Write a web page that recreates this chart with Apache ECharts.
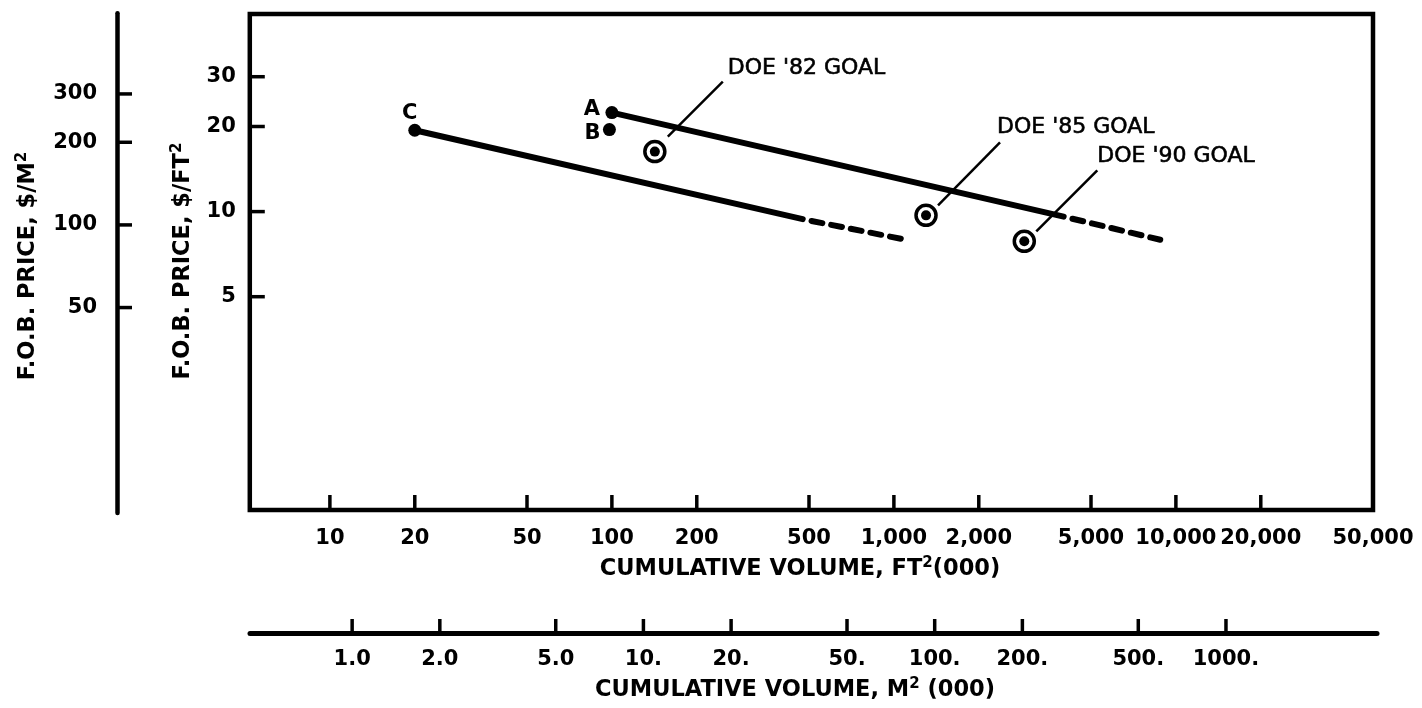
<!DOCTYPE html>
<html>
<head>
<meta charset="utf-8">
<script src="https://cdn.jsdelivr.net/npm/echarts@6/dist/echarts.min.js"></script>
<style>
  html, body { margin: 0; padding: 0; background: #fff; }
  #chart { width: 1422px; height: 708px; }
</style>
</head>
<body>
<div id="chart"></div>
<script>
// ---- Data ----------------------------------------------------------------
// Cumulative volume, thousands of ft² (main scale) and thousands of m² (lower scale)
const volumeFt2Ticks  = [10, 20, 50, 100, 200, 500, 1000, 2000, 5000, 10000, 20000, 50000];
const volumeFt2Labels = ['10', '20', '50', '100', '200', '500', '1,000', '2,000', '5,000', '10,000', '20,000', '50,000'];
const volumeM2Ticks   = [1, 2, 5, 10, 20, 50, 100, 200, 500, 1000];
const volumeM2Labels  = ['1.0', '2.0', '5.0', '10.', '20.', '50.', '100.', '200.', '500.', '1000.'];

// F.O.B. price, $/ft² (inner scale) and $/m² (outer scale)
const priceFt2Ticks  = [5, 10, 20, 30];
const priceFt2Labels = ['5', '10', '20', '30'];
const priceM2Ticks   = [50, 100, 200, 300];
const priceM2Labels  = ['50', '100', '200', '300'];

// Experience curves [cumulative volume ft²(000), $/ft²]
const curveA          = [[100, 22.4], [4000, 9.6]];
const curveAProjected = [[4000, 9.6], [8800, 7.95]];
const curveC          = [[20, 19.4], [475, 9.4]];
const curveCProjected = [[475, 9.4], [1070, 8.0]];

// Reported price points
const pointNames  = ['A', 'B', 'C'];
const pointValues = [[100, 22.4], [98, 19.5], [20, 19.4]];

// Program goals
const goalNames  = ["DOE '82 GOAL", "DOE '85 GOAL", "DOE '90 GOAL"];
const goalValues = [[142, 16.3], [1300, 9.7], [2900, 7.85]];

// ---- Scale extents & layout ------------------------------------------------
const X_FT2 = [5.2, 50000];
const Y_FT2 = [0.88, 50];
const Y_M2  = [8.925, 590];
const X_M2  = [0.446, 3300];

const INK = '#000';
const FAMILY = 'DejaVu Sans';
const NUM_SIZE = 21;

// callout geometry relative to each goal marker: leader start, leader end, text anchor
const GOAL_CALLOUTS = [
  { lead: [13, -15, 68, -70], text: [73, -83] },
  { lead: [12, -10, 74, -73], text: [71, -88] },
  { lead: [12, -10, 73, -71], text: [73, -85] }
];
const POINT_LABEL_OFFSETS = [[-20, -3], [-17, 4], [-5, -17]];

function numText(x, y, text, align, vAlign) {
  return {
    type: 'text', x: x, y: y,
    style: {
      text: text, fill: INK, fontFamily: FAMILY, fontWeight: 'bold',
      fontSize: NUM_SIZE, align: align, verticalAlign: vAlign
    }
  };
}

// ticks pointing up from a horizontal axis, labels below
function bottomTicks(labels, tickLen, labelGap) {
  return function (params, api) {
    const cs = params.coordSys;
    const x = api.coord([api.value(0), api.value(1)])[0];
    const yb = cs.y + cs.height;
    return {
      type: 'group',
      children: [
        { type: 'line', shape: { x1: x, y1: yb, x2: x, y2: yb - tickLen },
          style: { stroke: INK, lineWidth: 3.5 } },
        numText(x, yb + labelGap, labels[params.dataIndex], 'center', 'middle')
      ]
    };
  };
}

// ticks pointing right from a vertical axis, labels to the left
function leftTicks(labels, tickLen, labelGap) {
  return function (params, api) {
    const cs = params.coordSys;
    const y = api.coord([api.value(0), api.value(1)])[1];
    const xl = cs.x;
    return {
      type: 'group',
      children: [
        { type: 'line', shape: { x1: xl, y1: y, x2: xl + tickLen, y2: y },
          style: { stroke: INK, lineWidth: 3.5 } },
        numText(xl - labelGap, y, labels[params.dataIndex], 'right', 'middle')
      ]
    };
  };
}

function renderGoal(params, api) {
  const p = api.coord([api.value(0), api.value(1)]);
  const c = GOAL_CALLOUTS[params.dataIndex];
  return {
    type: 'group',
    children: [
      { type: 'circle', shape: { cx: p[0], cy: p[1], r: 10 },
        style: { fill: '#fff', stroke: INK, lineWidth: 3.5 } },
      { type: 'circle', shape: { cx: p[0], cy: p[1], r: 5 }, style: { fill: INK } },
      { type: 'line',
        shape: { x1: p[0] + c.lead[0], y1: p[1] + c.lead[1], x2: p[0] + c.lead[2], y2: p[1] + c.lead[3] },
        style: { stroke: INK, lineWidth: 2.5 } },
      { type: 'text', x: p[0] + c.text[0], y: p[1] + c.text[1],
        style: { text: goalNames[params.dataIndex], fill: INK, stroke: INK, lineWidth: 0.6,
                 fontFamily: FAMILY, fontWeight: 'normal', fontSize: 22,
                 align: 'left', verticalAlign: 'middle' } }
    ]
  };
}

const solidStyle  = { color: INK, width: 6, cap: 'round', opacity: 1 };
const dashedStyle = { color: INK, width: 6, cap: 'round', opacity: 1, type: [11, 9], dashOffset: 11 };

function lineSeries(data, style) {
  return {
    type: 'line', data: data, xAxisIndex: 0, yAxisIndex: 0,
    showSymbol: false, symbol: 'none', lineStyle: style, silent: true, z: 3
  };
}

const titleRich = {
  t: { fontFamily: FAMILY, fontWeight: 'bold', fontSize: 22.5, lineHeight: 27, fill: INK },
  s: { fontFamily: FAMILY, fontWeight: 'bold', fontSize: 15, lineHeight: 15, fill: INK, verticalAlign: 'top' }
};

function titleText(x, y, text, rotation) {
  return {
    type: 'text', x: x, y: y, rotation: rotation || 0,
    style: { text: text, rich: titleRich, align: 'center', verticalAlign: 'middle' }
  };
}

const option = {
  animation: false,
  backgroundColor: '#fff',
  grid: [
    { left: 249.8, top: 14, right: 49, bottom: 198, show: true,
      borderColor: INK, borderWidth: 4.5, backgroundColor: 'transparent', outerBoundsMode: 'none' },
    { left: 117, top: 13.3, width: 20, bottom: 195, outerBoundsMode: 'none' },
    { left: 250, right: 45, top: 600, bottom: 75, outerBoundsMode: 'none' }
  ],
  xAxis: [
    { type: 'log', gridIndex: 0, min: X_FT2[0], max: X_FT2[1], show: false },
    { type: 'value', gridIndex: 1, min: 0, max: 1, show: false },
    { type: 'log', gridIndex: 2, min: X_M2[0], max: X_M2[1], position: 'bottom',
      axisLine: { show: true, onZero: false, lineStyle: { color: INK, width: 5, cap: 'round' } },
      axisTick: { show: false }, axisLabel: { show: false }, splitLine: { show: false } }
  ],
  yAxis: [
    { type: 'log', gridIndex: 0, min: Y_FT2[0], max: Y_FT2[1], show: false },
    { type: 'log', gridIndex: 1, min: Y_M2[0], max: Y_M2[1], position: 'left',
      axisLine: { show: true, onZero: false, lineStyle: { color: INK, width: 4.5, cap: 'round' } },
      axisTick: { show: false }, axisLabel: { show: false }, splitLine: { show: false } },
    { type: 'value', gridIndex: 2, min: 0, max: 1, show: false }
  ],
  graphic: [
    titleText(800, 569, '{t|CUMULATIVE VOLUME, FT}{s|2}{t|(000)}'),
    titleText(795, 690, '{t|CUMULATIVE VOLUME, M}{s|2}{t| (000)}'),
    titleText(28, 266, '{t|F.O.B. PRICE, $/M}{s|2}', Math.PI / 2),
    titleText(183, 261, '{t|F.O.B. PRICE, $/FT}{s|2}', Math.PI / 2)
  ],
  series: [
    lineSeries(curveA, solidStyle),
    lineSeries(curveAProjected, dashedStyle),
    lineSeries(curveC, solidStyle),
    lineSeries(curveCProjected, dashedStyle),
    {
      type: 'scatter', xAxisIndex: 0, yAxisIndex: 0, symbol: 'circle', symbolSize: 13,
      itemStyle: { color: INK, opacity: 1 }, silent: true, z: 4,
      data: pointValues.map((v, i) => ({
        name: pointNames[i], value: v,
        label: { offset: POINT_LABEL_OFFSETS[i] }
      })),
      label: {
        show: true, position: 'inside', formatter: '{b}', color: INK, opacity: 1,
        fontFamily: FAMILY, fontWeight: 'bold', fontSize: 21
      }
    },
    {
      type: 'custom', coordinateSystem: 'cartesian2d', xAxisIndex: 0, yAxisIndex: 0,
      data: goalValues, renderItem: renderGoal, silent: true, z: 5
    },
    {
      type: 'custom', coordinateSystem: 'cartesian2d', xAxisIndex: 0, yAxisIndex: 0,
      data: volumeFt2Ticks.map(v => [v, Y_FT2[0]]),
      renderItem: bottomTicks(volumeFt2Labels, 15, 29), silent: true, clip: false
    },
    {
      type: 'custom', coordinateSystem: 'cartesian2d', xAxisIndex: 0, yAxisIndex: 0,
      data: priceFt2Ticks.map(v => [X_FT2[0], v]),
      renderItem: leftTicks(priceFt2Labels, 15, 14), silent: true, clip: false
    },
    {
      type: 'custom', coordinateSystem: 'cartesian2d', xAxisIndex: 1, yAxisIndex: 1,
      data: priceM2Ticks.map(v => [0.5, v]),
      renderItem: leftTicks(priceM2Labels, 15, 20), silent: true, clip: false
    },
    {
      type: 'custom', coordinateSystem: 'cartesian2d', xAxisIndex: 2, yAxisIndex: 2,
      data: volumeM2Ticks.map(v => [v, 0.5]),
      renderItem: bottomTicks(volumeM2Labels, 14, 27), silent: true, clip: false
    }
  ]
};

const chart = echarts.init(document.getElementById('chart'));
chart.setOption(option);
</script>
</body>
</html>
